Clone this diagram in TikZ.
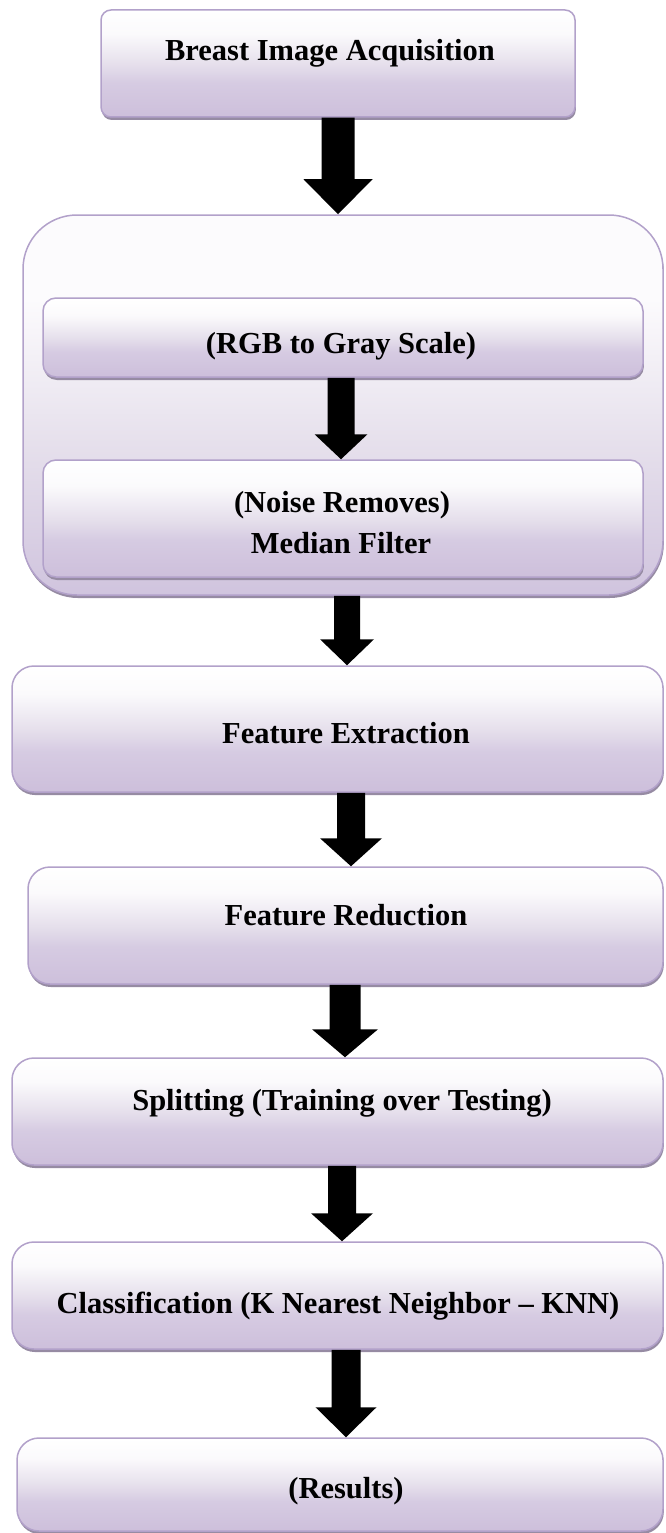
\documentclass[tikz,border=0pt]{standalone}
\usepackage{fontspec}
\setmainfont{Liberation Serif}
\usetikzlibrary{calc,shadows}

% palette
\definecolor{boxbot}{HTML}{CDBFDB}
\definecolor{boxlow}{HTML}{D6CBE2}
\definecolor{boxmid}{HTML}{E6E0EC}
\definecolor{boxtop}{HTML}{FBFAFC}
\definecolor{boxline}{HTML}{B2A1CA}
\definecolor{boxshadow}{HTML}{968BA3}
\definecolor{contbot}{HTML}{D0C4DE}
\definecolor{contmid}{HTML}{E6E0EC}
\definecolor{conttop}{HTML}{FCFBFD}

% vertical fills: the path spans 25bp (bottom) to 75bp (top)
\pgfdeclareverticalshading{stageshade}{100bp}{%
  color(0bp)=(boxbot); color(25bp)=(boxbot); color(41bp)=(boxlow);
  color(50bp)=(boxmid); color(64bp)=(boxtop); color(75bp)=(white);
  color(100bp)=(white)}
\pgfdeclareverticalshading{groupshade}{100bp}{%
  color(0bp)=(contbot); color(25bp)=(contbot); color(45bp)=(contmid);
  color(64bp)=(conttop); color(75bp)=(conttop); color(100bp)=(conttop)}

% block arrow sizes: shaft half width, head half width, head length
\newcommand\arShaft{14pt}
\newcommand\arHead{31pt}
\newcommand\arLen{28pt}

\tikzset{
  stagebox/.style={draw=boxline, line width=1.5pt, shading=stageshade,
    rounded corners=#1, inner sep=0pt,
    drop shadow={shadow xshift=0.8pt, shadow yshift=-3pt,
      fill=boxshadow, opacity=1}},
  stagebox/.default=22pt,
  groupbox/.style={draw=boxline, line width=1.5pt, shading=groupshade,
    rounded corners=54pt, inner sep=0pt,
    drop shadow={shadow xshift=0.8pt, shadow yshift=-3pt,
      fill=boxshadow, opacity=1}},
  lbl/.style={font=\fontsize{30.5}{36}\selectfont\bfseries, inner sep=0pt,
    anchor=base},
  arrowsize/.code n args={3}{\def\arShaft{#1}\def\arHead{#2}\def\arLen{#3}},
  blockarrow/.style={fill=black, to path={
    let \p1=(\tikztostart), \p2=(\tikztotarget) in
    (\x1-\arShaft,\y1) -- (\x1+\arShaft,\y1) -- (\x1+\arShaft,\y2+\arLen)
    -- (\x1+\arHead,\y2+\arLen) -- (\x1,\y2) -- (\x1-\arHead,\y2+\arLen)
    -- (\x1-\arShaft,\y2+\arLen) -- cycle}},
}

\begin{document}
\begin{tikzpicture}[x=1pt,y=-1pt]
\useasboundingbox (0,0) rectangle (666,1533);

% pre-processing group
\node[groupbox, minimum width=640pt, minimum height=380pt] (prep) at (343,405) {};

% stages
\node[stagebox=10pt, minimum width=474pt, minimum height=107pt] (acq) at (338,63.5) {};
\node[stagebox=13pt, minimum width=600pt, minimum height=79pt] (gray) at (343,337.5) {};
\node[stagebox=13pt, minimum width=600pt, minimum height=117pt] (noise) at (343,518.5) {};
\node[stagebox, minimum width=651pt, minimum height=126pt] (fext) at (337.5,729) {};
\node[stagebox, minimum width=635pt, minimum height=117pt] (fred) at (345.5,925.5) {};
\node[stagebox, minimum width=651pt, minimum height=107pt] (split) at (337.5,1111.5) {};
\node[stagebox, minimum width=651pt, minimum height=107pt] (knn) at (337.5,1295.5) {};
\node[stagebox, minimum width=646pt, minimum height=93pt] (res) at (340,1484.5) {};

% labels
\node[lbl] (acqT) at (330,61) {Breast Image Acquisition};
\node[lbl] (grayT) at (341,353) {(RGB to Gray Scale)};
\node[lbl] (noiseT) at (342,512) {(Noise Removes)};
\node[lbl] (noiseT2) at (341,553) {Median Filter};
\node[lbl] (fextT) at (346,743) {Feature Extraction};
\node[lbl] (fredT) at (346,925) {Feature Reduction};
\node[lbl] (splitT) at (342,1110) {Splitting (Training over Testing)};
\node[lbl] (knnT) at (338,1313) {Classification (K Nearest Neighbor – KNN)};
\node[lbl] (resT) at (346,1498) {(Results)};

% flow arrows
\fill[blockarrow, arrowsize={16.5pt}{34.5pt}{35pt}] (acq.south) to (prep.north);
\fill[blockarrow, arrowsize={13.5pt}{26.5pt}{25pt}] ([xshift=-2pt]gray.south) to (noise.north);
\fill[blockarrow, arrowsize={13pt}{27pt}{26pt}] ([xshift=4pt]prep.south) to (fext.north);
\fill[blockarrow, arrowsize={14pt}{31pt}{28pt}] ([xshift=13.5pt]fext.south) to (fred.north);
\fill[blockarrow, arrowsize={15.5pt}{33pt}{28pt}] ([xshift=-0.5pt]fred.south) to (split.north);
\fill[blockarrow, arrowsize={14pt}{31pt}{28pt}] ([xshift=4.5pt]split.south) to (knn.north);
\fill[blockarrow, arrowsize={14.5pt}{30.5pt}{30pt}] ([xshift=8.5pt]knn.south) to (res.north);
\end{tikzpicture}
\end{document}
